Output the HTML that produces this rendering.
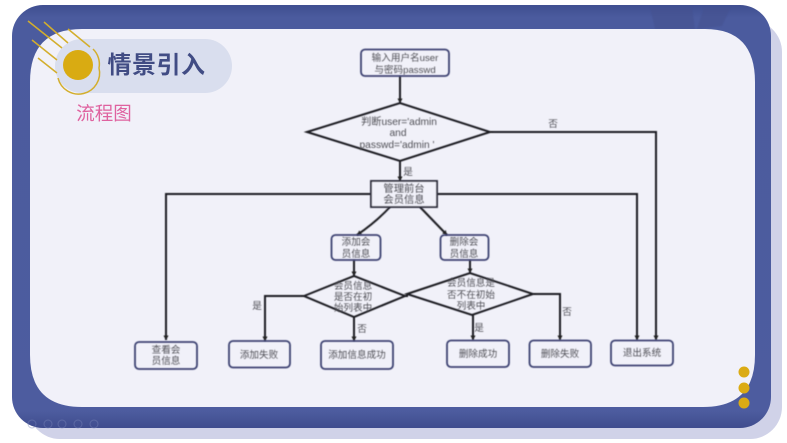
<!DOCTYPE html>
<html lang="zh"><head><meta charset="utf-8"><title>流程图</title>
<style>
html,body{margin:0;padding:0;background:#fff;width:787px;height:443px;overflow:hidden}
svg{display:block}
text{font-family:"Liberation Sans","Noto Sans CJK SC",sans-serif;fill:#505056;font-size:9.6px;text-anchor:middle}
.n{fill:none;stroke:#3d4272;stroke-width:1.8}
.b{filter:url(#s)}
</style></head><body>
<svg width="787" height="443" viewBox="0 0 787 443" xmlns="http://www.w3.org/2000/svg">
<defs>
<filter id="s" x="-5%" y="-5%" width="110%" height="110%"><feGaussianBlur stdDeviation="0.4"/></filter>
<filter id="t" x="-5%" y="-5%" width="110%" height="110%"><feGaussianBlur stdDeviation="0.4"/></filter>
<linearGradient id="g" x1="0" y1="0" x2="0" y2="1"><stop offset="0" stop-color="#3f4e90"/><stop offset=".03" stop-color="#4b5b9e"/><stop offset=".96" stop-color="#4d5c9f"/><stop offset="1" stop-color="#3f4c8e"/></linearGradient>
<marker id="a" markerWidth="6" markerHeight="6" refX="4.5" refY="2.5" orient="auto" markerUnits="userSpaceOnUse"><path d="M0,0L5,2.5L0,5Z" fill="#222"/></marker>
</defs>
<rect x="28" y="20" width="754" height="419" rx="32" fill="#d0d2e8"/>
<rect x="12" y="5" width="759" height="423" rx="31" fill="url(#g)"/>
<path d="M650 7L692 7L695 29L655 29Z M704 7L731 7L722 26L697 29Z" fill="#44518f" opacity=".55" filter="url(#s)"/>
<path d="M82 29H705Q755 29 755 82V355Q755 407 703 407H82Q30 407 30 355V82Q30 29 82 29Z" fill="#f1f1f9"/>
<g fill="none" stroke="#7a85b8" stroke-width="1" opacity=".45"><circle cx="32" cy="424" r="4"/><circle cx="48" cy="424" r="4"/><circle cx="62" cy="424" r="4"/><circle cx="78" cy="424" r="4"/><circle cx="94" cy="424" r="4"/></g>
<g fill="#dbab14"><circle cx="744" cy="372" r="5.5"/><circle cx="744" cy="388" r="5.500"/><circle cx="744" cy="403" r="5.500"/></g>

<rect x="55" y="39" width="177" height="54" rx="27" fill="#d9deee"/>
<g stroke="#d3ae2c" stroke-width="1.5" fill="none">
<path d="M28 21L62 48M44 22L68 43M68 29L90 47M32 40L57 60M38 58L57 73"/>
<path d="M93 49A21 21 0 0 1 99 68A21 21 0 0 1 58 78"/>
</g>
<circle cx="78" cy="65" r="15" fill="#d9ab12"/>
<text x="156.500" y="73" style="font-size:24px;font-weight:700;fill:#414c84;letter-spacing:.5px">情景引入</text>
<text x="104" y="120" style="font-size:18.500px;fill:#df629f">流程图</text>

<g class="b" fill="none" stroke="#1a1a20" stroke-width="2">
<path d="M400 76V103" marker-end="url(#a)"/>
<path d="M400 161V181" marker-end="url(#a)"/>
<path d="M490 132H656V340" marker-end="url(#a)"/>
<path d="M371 194H166V340" marker-end="url(#a)"/>
<path d="M437 194H637V340" marker-end="url(#a)"/>
<path d="M390 207Q376 222 357 235" marker-end="url(#a)"/>
<path d="M420 207L447 235" marker-end="url(#a)"/>
<path d="M354 260V276" marker-end="url(#a)"/>
<path d="M470 260V273" marker-end="url(#a)"/>
<path d="M304 296H265V341" marker-end="url(#a)"/>
<path d="M354 317V341" marker-end="url(#a)"/>
<path d="M405 296H408"/>
<path d="M473 315V340" marker-end="url(#a)"/>
<path d="M533 294H560V340" marker-end="url(#a)"/>
<path d="M307 132L400 103L490 132L400 161Z"/>
<path d="M304 296L354 276L405 296L354 317Z"/>
<path d="M407 294L470 273L533 294L472 315Z"/>
</g>
<g class="b">
<rect class="n" x="361" y="49.500" width="88" height="26.500" rx="4"/>
<rect x="371" y="181" width="66" height="26" fill="#f1f1f9" stroke="#2e2e3c" stroke-width="1.9"/>
<rect class="n" x="331.500" y="235" width="49" height="25" rx="4"/>
<rect class="n" x="440.500" y="235" width="48" height="25" rx="4"/>
<rect class="n" x="135" y="342" width="62" height="27" rx="4"/>
<rect class="n" x="229" y="341" width="61" height="26.500" rx="4"/>
<rect class="n" x="321" y="341" width="72" height="28" rx="4"/>
<rect class="n" x="447" y="340.500" width="62" height="26.500" rx="4"/>
<rect class="n" x="529.500" y="340.500" width="61.500" height="26.500" rx="4"/>
<rect class="n" x="611" y="340.500" width="62" height="25" rx="4"/>
</g>
<g filter="url(#t)">
<text x="405" y="61">输入用户名user</text><text x="405" y="73">与密码passwd</text>
<text x="399" y="125" style="font-size:10.200px">判断user='admin</text><text x="398" y="136" style="font-size:10.200px">and</text><text x="397" y="148" style="font-size:10.200px">passwd='admin '</text>
<text x="404" y="192" style="font-size:10.300px">管理前台</text><text x="404" y="203" style="font-size:10.300px">会员信息</text>
<text x="356" y="245">添加会</text><text x="356" y="257">员信息</text>
<text x="464" y="245">删除会</text><text x="464" y="257">员信息</text>
<text x="353" y="289">会员信息</text><text x="353" y="300">是否在初</text><text x="353" y="311">始列表中</text>
<text x="471" y="286">会员信息是</text><text x="471" y="298">否不在初始</text><text x="471" y="309">列表中</text>
<text x="166" y="353">查看会</text><text x="166" y="364">员信息</text>
<text x="259" y="358">添加失败</text>
<text x="357" y="358">添加信息成功</text>
<text x="478" y="357">删除成功</text>
<text x="560" y="357">删除失败</text>
<text x="642" y="356">退出系统</text>
<text x="553" y="127">否</text><text x="408" y="175">是</text>
<text x="257" y="309">是</text><text x="362" y="332">否</text>
<text x="479" y="331">是</text><text x="567" y="315">否</text>
</g>
</svg>
</body></html>
